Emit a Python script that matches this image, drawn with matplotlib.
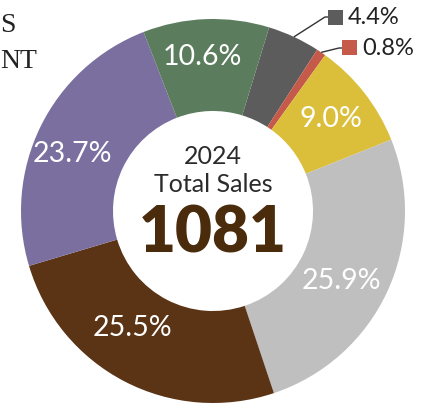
import numpy as np
import matplotlib
matplotlib.use("Agg")
import matplotlib.pyplot as plt

# Sales share by category (percent), clockwise from the top-right
categories = ["Dark gray", "Red", "Yellow", "Light gray", "Brown", "Purple", "Green"]
shares = [4.4, 0.8, 9.0, 25.9, 25.5, 23.7, 10.6]
colors = ["#5c5c5c", "#c65a4a", "#dbbf3b", "#bfbfbf", "#5b3416", "#7b6fa0", "#5b7d5e"]
year = "2024"
total_label = "Total Sales"
total_sales = 1081

W, H = 436, 407
fig = plt.figure(figsize=(W / 100, H / 100), dpi=100)
ax = fig.add_axes([0, 0, 1, 1])

cx, cy = 213, H - 211
r_out, r_in = 192, 100

wedges, _ = ax.pie(shares, colors=colors, startangle=73, counterclock=False,
                   radius=r_out, center=(cx, cy),
                   wedgeprops=dict(width=r_out - r_in, linewidth=0))
ax.set_xlim(0, W)
ax.set_ylim(0, H)
ax.set_aspect("equal")
ax.axis("off")

font = "Lato"

# in-ring labels for the larger slices (small slices get call-outs)
nudge = {2: 0, 3: -4, 4: -7, 5: 4, 6: 2}
label_r = {2: 150, 3: 146, 4: 142, 5: 152, 6: 154}
for i, w in enumerate(wedges):
    if i not in nudge:
        continue
    mid = np.deg2rad((w.theta1 + w.theta2) / 2 + nudge[i])
    rr = label_r[i]
    ax.text(cx + rr * np.cos(mid), cy + rr * np.sin(mid), f"{shares[i]:.1f}%",
            ha="center", va="center", color="white", fontsize=20.5,
            family=font)

# call-outs for the two thin slices
callouts = {0: ((325, H - 17), (328, H - 10)), 1: ((339, H - 48), (342, H - 40))}
for i, (elbow, box) in callouts.items():
    w = wedges[i]
    mid = np.deg2rad((w.theta1 + w.theta2) / 2)
    px, py = cx + r_out * np.cos(mid), cy + r_out * np.sin(mid)
    ex, ey = elbow
    ax.plot([px, ex, box[0]], [py, ey, ey], color="#333333", lw=1.0,
            solid_capstyle="butt")
    ax.add_patch(plt.Rectangle((box[0], box[1] - 15), 15, 15,
                               facecolor=colors[i], edgecolor="none"))
    ax.text(box[0] + 20, ey - 0.5, f"{shares[i]:.1f}%", ha="left", va="center",
            fontsize=17, color="#222222", family=font)

# centre summary
ax.text(cx, H - 156, year, ha="center", va="center", fontsize=18,
        color="#2b2b2b", family=font)
ax.text(cx, H - 184, total_label, ha="center", va="center", fontsize=18,
        color="#2b2b2b", family=font)
ax.text(cx, H - 234, f"{total_sales}", ha="center", va="center", fontsize=46,
        fontweight="heavy", color="#4a2c0c", family=font)

# tail of the neighbouring heading
fig.text(0, 1 - 25 / H, "S", ha="left", va="center", fontsize=20,
         family="Liberation Serif", color="#222222")
fig.text(0, 1 - 61 / H, "NT", ha="left", va="center", fontsize=20,
         family="Liberation Serif", color="#222222")

fig.savefig("out.png", dpi=100)
